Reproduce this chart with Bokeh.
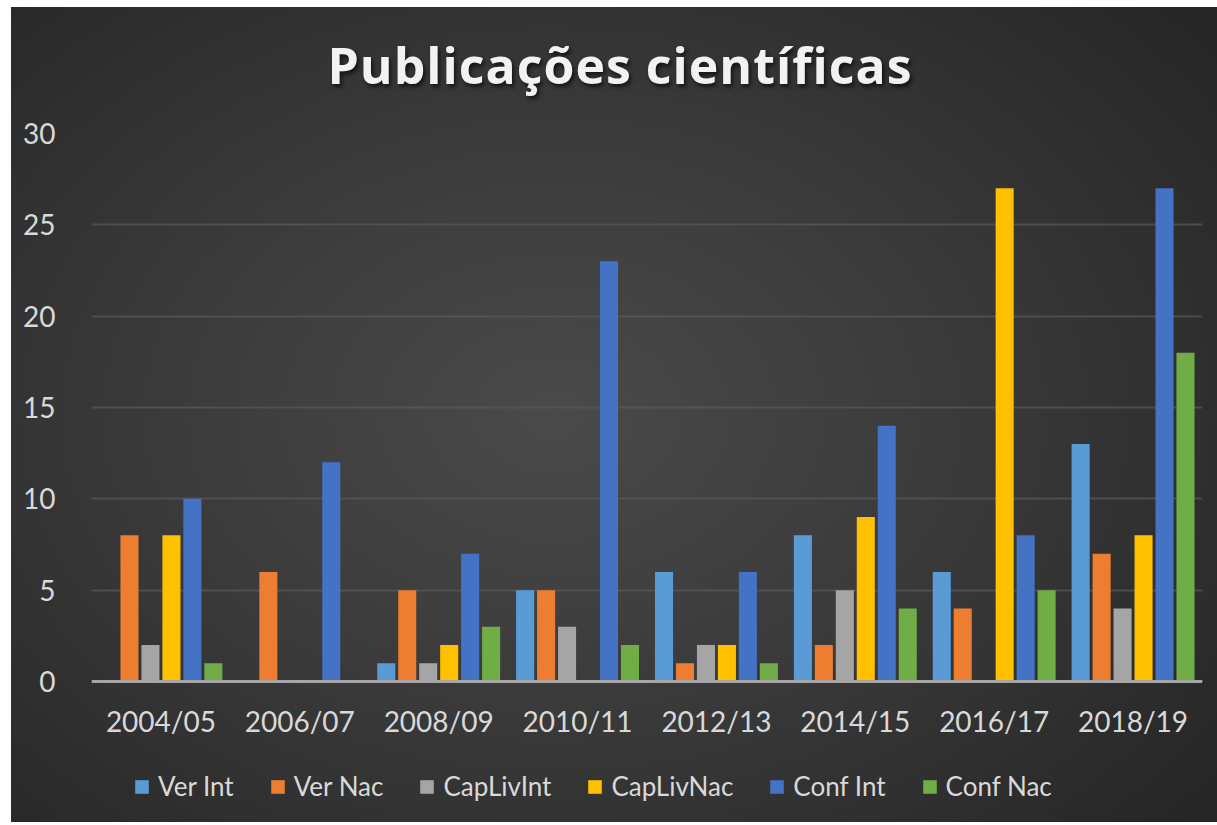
from bokeh.plotting import figure
from bokeh.layouts import column
from bokeh.models import ColumnDataSource, FactorRange, Legend, LegendItem, FixedTicker, Div
from bokeh.transform import dodge
from bokeh.embed import file_html
from bokeh.resources import INLINE

categories = ["2004/05", "2006/07", "2008/09", "2010/11", "2012/13", "2014/15", "2016/17", "2018/19"]
series_names = ["Ver Int", "Ver Nac", "CapLivInt", "CapLivNac", "Conf Int", "Conf Nac"]
ver_int = [0, 0, 1, 5, 6, 8, 6, 13]
ver_nac = [8, 6, 5, 5, 1, 2, 4, 7]
cap_liv_int = [2, 0, 1, 3, 2, 5, 0, 4]
cap_liv_nac = [8, 0, 2, 0, 2, 9, 27, 8]
conf_int = [10, 12, 7, 23, 6, 14, 8, 27]
conf_nac = [1, 0, 3, 2, 1, 4, 5, 18]
colors = ["#5b9bd5", "#ed7d31", "#a5a5a5", "#ffc000", "#4472c4", "#70ad47"]
y_ticks = [0, 5, 10, 15, 20, 25, 30]
title_text = "Publicações científicas"

values = [ver_int, ver_nac, cap_liv_int, cap_liv_nac, conf_int, conf_nac]
keys = ["ver_int", "ver_nac", "cap_liv_int", "cap_liv_nac", "conf_int", "conf_nac"]
data = {"cat": categories}
for k, v in zip(keys, values):
    data[k] = v
source = ColumnDataSource(data)

FONT = "Lato"
TXT = "#d9d9d9"

# layout: 0..30 spans 548 px; frame extends below zero to hold labels + legend
FRAME_H = 689
Y_MAX = 30
y_min = Y_MAX - FRAME_H * Y_MAX / 548.0

title_div = Div(
    text=('<div style="display: block; box-sizing: border-box; width: 1206px; '
          'font-family: \'Open Sans\'; font-weight: bold; font-size: 50px; '
          'letter-spacing: 1px; color: #f2f2f2; line-height: 1; text-align: center; '
          'padding-top: 33px; padding-left: 12px; '
          'text-shadow: 2px 3px 4px rgba(0,0,0,0.65);">' + title_text + '</div>'),
    width=1206, height=106, margin=0)

p = figure(x_range=FactorRange(*categories, range_padding=0), y_range=(y_min, Y_MAX),
           frame_width=1111, frame_height=FRAME_H,
           output_backend="svg", toolbar_location=None,
           min_border_left=80, min_border_right=15, min_border_top=20, min_border_bottom=0,
           margin=0)
p.border_fill_color = None
p.background_fill_color = None
p.outline_line_color = None

step = 0.151
width = 0.13
renderers = []
for i, (k, c) in enumerate(zip(keys, colors)):
    r = p.vbar(x=dodge("cat", (i - 2.5) * step, range=p.x_range), top=k, width=width,
               source=source, fill_color=c, line_color=None)
    renderers.append(r)

p.yaxis.ticker = FixedTicker(ticks=y_ticks)
p.yaxis.axis_line_color = None
p.yaxis.major_tick_line_color = None
p.yaxis.minor_tick_line_color = None
p.yaxis.major_label_text_font = FONT
p.yaxis.major_label_text_font_size = "28px"
p.yaxis.major_label_text_color = TXT
p.yaxis.major_label_standoff = 30

p.xaxis.fixed_location = 0
p.xaxis.axis_line_color = "#a6a6a6"
p.xaxis.axis_line_width = 3
p.xaxis.major_tick_line_color = None
p.xaxis.minor_tick_line_color = None
p.xaxis.major_label_text_font = FONT
p.xaxis.major_label_text_font_size = "28px"
p.xaxis.major_label_text_color = TXT
p.xaxis.major_label_standoff = 16

p.xgrid.grid_line_color = None
p.ygrid.grid_line_color = "#5a5a5a"
p.ygrid.grid_line_width = 2
p.ygrid.grid_line_alpha = 0.7
p.ygrid.ticker = FixedTicker(ticks=y_ticks)

legend = Legend(items=[LegendItem(label=n, renderers=[r]) for n, r in zip(series_names, renderers)],
                orientation="horizontal", location=(42, 20),
                label_text_font=FONT, label_text_font_size="26px", label_text_color=TXT,
                glyph_width=17, glyph_height=17, label_standoff=8, spacing=35,
                background_fill_alpha=0, border_line_color=None, margin=0, padding=0)
p.add_layout(legend)

layout = column(title_div, p, spacing=0,
                styles={"background": "radial-gradient(ellipse 70% 75% at 45% 50%, #4a4a4a 0%, #3b3b3b 45%, #262626 100%)",
                        "margin-left": "11px", "margin-top": "7px"})

open("out.html", "w").write(file_html(layout, INLINE))
